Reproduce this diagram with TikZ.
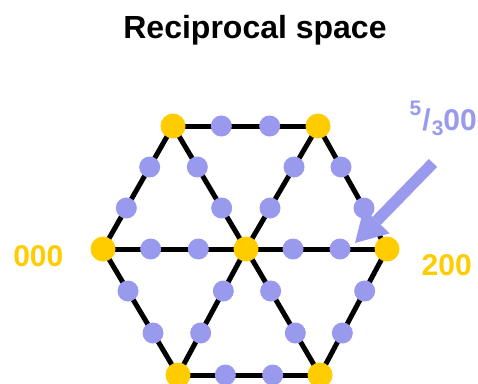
\documentclass[tikz,border=0pt]{standalone}
\usepackage{fontspec}
\setmainfont{Liberation Sans}
\usetikzlibrary{arrows.meta,backgrounds}
\definecolor{spotyellow}{RGB}{255,204,0}
\definecolor{spotblue}{RGB}{153,153,238}

\begin{document}
\begin{tikzpicture}[x=1pt, y=-1pt,
    bragg/.style={circle, fill=spotyellow, inner sep=0pt, minimum size=25pt},
    extra/.style={circle, fill=spotblue, inner sep=0pt, minimum size=21pt},
    hkl/.style={font=\fontsize{30}{30}\selectfont\bfseries, inner sep=0pt}]
    \useasboundingbox (0,0) rectangle (478,383);
    \node[font=\fontsize{32}{32}\selectfont\bfseries, anchor=base] (title) at (255,38.5) {Reciprocal space};
    \node[bragg] (p000) at (103,249) {};
    \node[bragg] (p100) at (246,249) {};
    \node[bragg] (p200) at (387,249) {};
    \node[bragg] (tl) at (173,126) {};
    \node[bragg] (tr) at (318,126) {};
    \node[bragg] (bl) at (178,375) {};
    \node[bragg] (br) at (320,375) {};
    \begin{scope}[on background layer]
        \foreach \a/\b in {p000/tl, tl/tr, tr/p200, p200/br, br/bl, bl/p000,
                           p000/p100, p100/p200, tl/p100, p100/br, tr/p100, p100/bl}
            \draw[line width=5pt] (\a.center) -- (\b.center)
                node[extra, pos=1/3] (\a-\b-1) {} node[extra, pos=2/3] (\a-\b-2) {};
    \end{scope}
    \node[hkl, text=spotyellow, anchor=base] (l000) at (38.3,266.7) {000};
    \node[hkl, text=spotyellow, anchor=base] (l200) at (446.7,275) {200};
    \node[hkl, text=spotblue, anchor=base east] (l5300) at (477,130)
        {\raisebox{15pt}{\fontsize{21}{21}\selectfont 5}\kern1pt/\kern1pt\raisebox{-5pt}{\fontsize{21}{21}\selectfont 3}00};
    \coordinate (arrtail) at (433,163);
    \coordinate (arrtip) at (355,243);
    \draw[spotblue, line width=11.5pt, -{Triangle[length=31pt, width=36pt, line width=0pt]}] (arrtail) -- (arrtip);
\end{tikzpicture}
\end{document}
